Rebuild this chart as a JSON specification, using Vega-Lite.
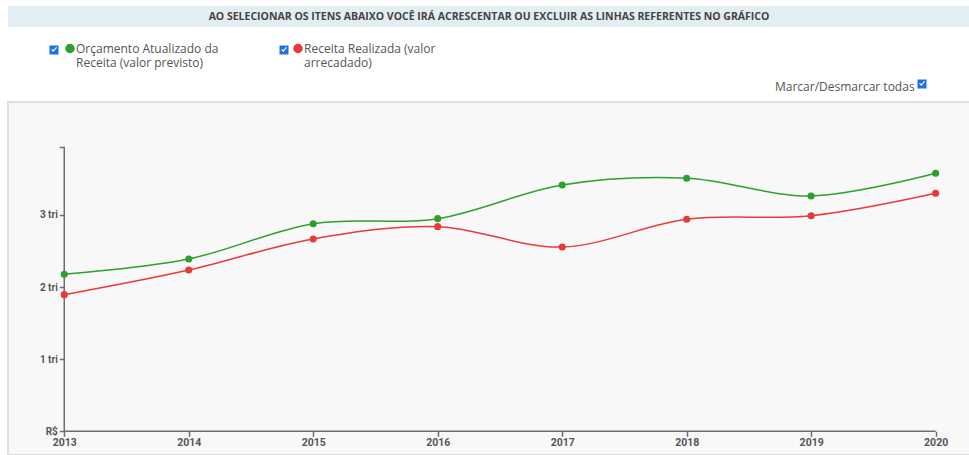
{
  "$schema": "https://vega.github.io/schema/vega-lite/v6.json",
  "background": "white",
  "padding": {"left": 7, "top": 6, "right": 0, "bottom": 0},
  "bounds": "flush",
  "spacing": 75,
  "config": {"view": {"stroke": null}, "font": "Open Sans"},
  "vconcat": [
    {
      "width": 962,
      "height": 21,
      "view": {"fill": "#e3eef3", "stroke": null},
      "data": {"values": [{"aviso": "AO SELECIONAR OS ITENS ABAIXO VOCÊ IRÁ ACRESCENTAR OU EXCLUIR AS LINHAS REFERENTES NO GRÁFICO"}]},
      "mark": {"type": "text", "font": "Open Sans", "fontWeight": "bold", "fontSize": 10.5, "color": "#444444"},
      "encoding": {
        "text": {"field": "aviso"}
      }
    },
    {
      "width": 962,
      "height": 353,
      "view": {"fill": "#f8f8f8", "stroke": "#dedede", "strokeWidth": 2},
      "layer": [
        {
          "data": {"values": [{}]},
          "mark": {"type": "rule", "color": "#6e6e6e", "strokeWidth": 1.5},
          "encoding": {"x": {"datum": 2013, "type": "quantitative"}, "x2": {"datum": 2020}, "y": {"datum": 0, "type": "quantitative"}}
        },
        {
          "data": {"values": [{}]},
          "mark": {"type": "rule", "color": "#6e6e6e", "strokeWidth": 1.5},
          "encoding": {"x": {"datum": 2013, "type": "quantitative"}, "y": {"datum": 0, "type": "quantitative"}, "y2": {"datum": 3940000000000}}
        },
        {
          "data": {"name": "receitas"},
          "mark": {"type": "line", "interpolate": "cardinal", "strokeWidth": 1.5},
          "encoding": {
            "x": {"field": "ano", "type": "quantitative",
              "scale": {"domain": [2012.548, 2020.276], "nice": false, "zero": false},
              "axis": {"orient": "bottom", "offset": -23.7, "values": [2013, 2014, 2015, 2016, 2017, 2018, 2019, 2020], "format": "d", "title": null, "domain": false, "grid": false,
                "labelFont": "Roboto", "labelFontWeight": "bold", "labelFontSize": 10.5, "labelColor": "#555555", "labelPadding": 1, "labelFlush": false,
                "tickColor": "#6e6e6e", "tickSize": 5, "tickWidth": 1.5}},
            "y": {"field": "valor", "type": "quantitative",
              "scale": {"domain": [-329000000000, 4567000000000], "nice": false, "zero": false},
              "axis": {"orient": "left", "offset": -56.3, "values": [0, 1000000000000, 2000000000000, 3000000000000, 3940000000000], "title": null, "domain": false, "grid": false,
                "labelExpr": "datum.value == 0 ? 'R$' : (datum.value > 3500000000000 ? '' : format(datum.value / 1000000000000, 'd') + ' tri')",
                "labelFont": "Roboto", "labelFontWeight": "bold", "labelFontSize": 10, "labelColor": "#555555", "labelPadding": 2,
                "tickColor": "#6e6e6e", "tickSize": 5, "tickWidth": 1.5}},
            "color": {"field": "serie", "type": "nominal",
              "scale": {"domain": ["Orçamento Atualizado da Receita (valor previsto)", "Receita Realizada (valor arrecadado)"], "range": ["#2ca02c", "#e63b3b"]}}
          }
        },
        {
          "data": {"name": "receitas"},
          "mark": {"type": "point", "filled": true, "size": 50, "opacity": 1},
          "encoding": {
            "x": {"field": "ano", "type": "quantitative"},
            "y": {"field": "valor", "type": "quantitative"},
            "color": {"field": "serie", "type": "nominal",
              "legend": {
                "orient": "none", "legendX": 56, "legendY": 36.5, "direction": "horizontal", "title": null,
                "symbolType": "circle", "symbolSize": 64, "labelFont": "Open Sans", "labelFontSize": 12, "labelColor": "#555555", "labelLimit": 300, "labelOffset": 0,
                "columnPadding": 72,
                "labelExpr": "datum.label == 'Orçamento Atualizado da Receita (valor previsto)' ? ['Orçamento Atualizado da', 'Receita (valor previsto)'] : ['Receita Realizada (valor', 'arrecadado)']"
              }},
            "opacity": {"field": "serie", "type": "ordinal",
              "scale": {"range": [1, 1]},
              "legend": {
                "orient": "none", "legendX": 40.5, "legendY": 38.5, "direction": "horizontal", "title": null,
                "symbolType": "M-1,-1H1V1H-1Z M-0.62,-0.05L-0.18,0.42L0.66,-0.5L0.48,-0.66L-0.18,0.08L-0.44,-0.22Z",
                "symbolSize": 81, "symbolFillColor": "#1f6fe5", "symbolStrokeColor": "transparent", "symbolOpacity": 1,
                "labelExpr": "''", "labelOffset": 0, "columnPadding": 215
              }},
            "strokeWidth": {"datum": "todas", "type": "ordinal",
              "scale": {"range": [0]},
              "legend": {
                "orient": "none", "legendX": 767, "legendY": 78,
                "title": "Marcar/Desmarcar todas", "titleOrient": "left",
                "titleFont": "Open Sans", "titleFontSize": 12, "titleFontWeight": "normal", "titleColor": "#555555", "titlePadding": 7,
                "symbolType": "M-1,-1H1V1H-1Z M-0.62,-0.05L-0.18,0.42L0.66,-0.5L0.48,-0.66L-0.18,0.08L-0.44,-0.22Z",
                "symbolSize": 81, "symbolFillColor": "#1f6fe5", "symbolStrokeColor": "transparent", "symbolOpacity": 1,
                "labelExpr": "''", "labelOffset": 0
              }}
          }
        }
      ]
    }
  ],
  "datasets": {
    "receitas": [
      {"ano": 2013, "serie": "Orçamento Atualizado da Receita (valor previsto)", "valor": 2178000000000},
      {"ano": 2014, "serie": "Orçamento Atualizado da Receita (valor previsto)", "valor": 2390000000000},
      {"ano": 2015, "serie": "Orçamento Atualizado da Receita (valor previsto)", "valor": 2879000000000},
      {"ano": 2016, "serie": "Orçamento Atualizado da Receita (valor previsto)", "valor": 2949000000000},
      {"ano": 2017, "serie": "Orçamento Atualizado da Receita (valor previsto)", "valor": 3416000000000},
      {"ano": 2018, "serie": "Orçamento Atualizado da Receita (valor previsto)", "valor": 3509000000000},
      {"ano": 2019, "serie": "Orçamento Atualizado da Receita (valor previsto)", "valor": 3264000000000},
      {"ano": 2020, "serie": "Orçamento Atualizado da Receita (valor previsto)", "valor": 3578000000000},
      {"ano": 2013, "serie": "Receita Realizada (valor arrecadado)", "valor": 1895000000000},
      {"ano": 2014, "serie": "Receita Realizada (valor arrecadado)", "valor": 2237000000000},
      {"ano": 2015, "serie": "Receita Realizada (valor arrecadado)", "valor": 2667000000000},
      {"ano": 2016, "serie": "Receita Realizada (valor arrecadado)", "valor": 2838000000000},
      {"ano": 2017, "serie": "Receita Realizada (valor arrecadado)", "valor": 2556000000000},
      {"ano": 2018, "serie": "Receita Realizada (valor arrecadado)", "valor": 2940000000000},
      {"ano": 2019, "serie": "Receita Realizada (valor arrecadado)", "valor": 2990000000000},
      {"ano": 2020, "serie": "Receita Realizada (valor arrecadado)", "valor": 3301000000000}
    ]
  }
}
